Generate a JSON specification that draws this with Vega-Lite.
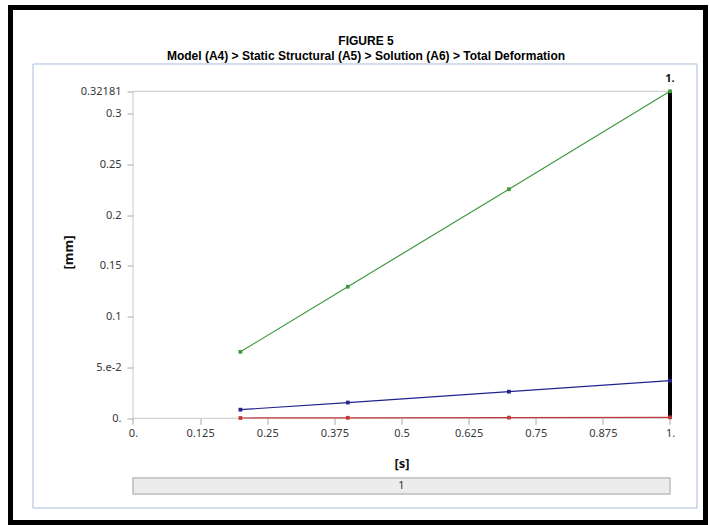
{
  "$schema": "https://vega.github.io/schema/vega-lite/v6.json",
  "width": 695,
  "height": 515,
  "autosize": {"type": "none"},
  "padding": {"left": 10.5, "top": 7.5, "right": 4.5, "bottom": 2.5},
  "background": "white",
  "config": {
    "view": {"stroke": "black", "strokeWidth": 5},
    "font": "Noto Sans"
  },
  "title": {
    "text": ["FIGURE 5", "Model (A4) > Static Structural (A5) > Solution (A6) > Total Deformation"],
    "font": "Liberation Sans",
    "fontSize": 12,
    "fontWeight": "bold",
    "color": "black",
    "anchor": "middle",
    "frame": "group",
    "dx": 8,
    "offset": -55,
    "lineHeight": 15
  },
  "datasets": {
    "deformation": [
      {"time": 0.2, "value": 0.0654, "series": "Maximum"},
      {"time": 0.4, "value": 0.1295, "series": "Maximum"},
      {"time": 0.7, "value": 0.2254, "series": "Maximum"},
      {"time": 1.0, "value": 0.32181, "series": "Maximum"},
      {"time": 0.2, "value": 0.0085, "series": "Average"},
      {"time": 0.4, "value": 0.0155, "series": "Average"},
      {"time": 0.7, "value": 0.0262, "series": "Average"},
      {"time": 1.0, "value": 0.037, "series": "Average"},
      {"time": 0.2, "value": 0.0003, "series": "Minimum"},
      {"time": 0.4, "value": 0.0005, "series": "Minimum"},
      {"time": 0.7, "value": 0.0007, "series": "Minimum"},
      {"time": 1.0, "value": 0.0009, "series": "Minimum"}
    ],
    "steps": [
      {"step": "1", "start": 0, "end": 1, "mid": 0.5}
    ],
    "cursor": [
      {"start": 0, "time": 1.0, "low": 0, "high": 0.32181, "label": "1."}
    ]
  },
  "layer": [
    {
      "data": {"name": "cursor"},
      "mark": {"type": "rule", "color": "#c8c8c8", "strokeWidth": 1},
      "encoding": {
        "x": {"field": "start", "type": "quantitative",
          "scale": {"domain": [-0.228119, 1.066108], "nice": false, "zero": false},
          "axis": {
            "values": [0, 0.125, 0.25, 0.375, 0.5, 0.625, 0.75, 0.875, 1],
            "labelExpr": "datum.value == 0 ? '0.' : datum.value == 1 ? '1.' : format(datum.value, '.3~f')",
            "offset": -104.2,
            "domain": false,
            "grid": false,
            "ticks": true,
            "tickSize": 6,
            "tickColor": "#a8a8a8",
            "labelFont": "Noto Sans",
            "labelFontSize": 11,
            "labelColor": "#383838",
            "labelPadding": 3,
            "labelFlush": false,
            "labelOverlap": false,
            "title": "[s]",
            "titleFont": "Noto Sans",
            "titleFontSize": 13,
            "titleFontWeight": "bold",
            "titleColor": "#111111",
            "titleX": 391,
            "titleY": 44.7,
            "titleBaseline": "middle",
            "titleAlign": "center"
          }
        },
        "x2": {"field": "time"},
        "y": {"field": "high", "type": "quantitative",
          "scale": {"domain": [-0.102546, 0.404279], "nice": false, "zero": false},
          "axis": {
            "values": [0, 0.05, 0.1, 0.15, 0.2, 0.25, 0.3, 0.32181],
            "labelExpr": "datum.value == 0 ? '0.' : datum.value == 0.05 ? '5.e-2' : format(datum.value, '.5~f')",
            "offset": -122.5,
            "domain": false,
            "grid": false,
            "ticks": true,
            "tickSize": 6,
            "tickColor": "#a8a8a8",
            "labelFont": "Noto Sans",
            "labelFontSize": 11,
            "labelColor": "#383838",
            "labelPadding": 6,
            "labelFlush": false,
            "labelOverlap": false,
            "title": "[mm]",
            "titleFont": "Noto Sans",
            "titleFontSize": 13,
            "titleFontWeight": "bold",
            "titleColor": "#111111",
            "titleX": -65,
            "titleY": 244.5,
            "titleAngle": 270,
            "titleBaseline": "middle",
            "titleAlign": "center"
          }
        }
      }
    },
    {
      "data": {"name": "steps"},
      "mark": {"type": "rect", "fill": "transparent", "stroke": "#a9bcd8", "strokeWidth": 1},
      "encoding": {
        "x": {"datum": -0.18622, "type": "quantitative"},
        "x2": {"datum": 1.05028},
        "y": {"datum": 0.34868, "type": "quantitative"},
        "y2": {"datum": -0.08828}
      }
    },
    {
      "data": {"name": "steps"},
      "mark": {"type": "rect", "fill": "#ececec", "stroke": "#bdbdbd", "strokeWidth": 1.5},
      "encoding": {
        "x": {"field": "start", "type": "quantitative"},
        "x2": {"field": "end"},
        "y": {"datum": -0.05875, "type": "quantitative"},
        "y2": {"datum": -0.0745}
      }
    },
    {
      "data": {"name": "steps"},
      "mark": {"type": "text", "font": "Noto Sans", "fontSize": 11, "color": "#333333", "baseline": "middle", "align": "center"},
      "encoding": {
        "x": {"field": "mid", "type": "quantitative"},
        "y": {"datum": -0.0666, "type": "quantitative"},
        "text": {"field": "step"}
      }
    },
    {
      "data": {"name": "cursor"},
      "mark": {"type": "rule", "color": "#c8c8c8", "strokeWidth": 1},
      "encoding": {
        "x": {"field": "start", "type": "quantitative"},
        "x2": {"field": "time"},
        "y": {"field": "low", "type": "quantitative"}
      }
    },
    {
      "data": {"name": "cursor"},
      "mark": {"type": "rule", "color": "#c8c8c8", "strokeWidth": 1},
      "encoding": {
        "x": {"field": "start", "type": "quantitative"},
        "y": {"field": "low", "type": "quantitative"},
        "y2": {"field": "high"}
      }
    },
    {
      "data": {"name": "cursor"},
      "mark": {"type": "rule", "color": "black", "strokeWidth": 4},
      "encoding": {
        "x": {"field": "time", "type": "quantitative"},
        "y": {"field": "low", "type": "quantitative"},
        "y2": {"field": "high"}
      }
    },
    {
      "data": {"name": "deformation"},
      "mark": {"type": "line", "strokeWidth": 1.2},
      "encoding": {
        "x": {"field": "time", "type": "quantitative"},
        "y": {"field": "value", "type": "quantitative"},
        "color": {"field": "series", "type": "nominal",
          "scale": {"domain": ["Maximum", "Average", "Minimum"], "range": ["#3f9a3f", "#23238f", "#c03a3a"]},
          "legend": null}
      }
    },
    {
      "data": {"name": "deformation"},
      "mark": {"type": "point", "shape": "square", "filled": true, "size": 14, "opacity": 1},
      "encoding": {
        "x": {"field": "time", "type": "quantitative"},
        "y": {"field": "value", "type": "quantitative"},
        "color": {"field": "series", "type": "nominal",
          "scale": {"domain": ["Maximum", "Average", "Minimum"], "range": ["#3f9a3f", "#23238f", "#c03a3a"]},
          "legend": null}
      }
    },
    {
      "data": {"name": "cursor"},
      "mark": {"type": "text", "font": "Noto Sans", "fontSize": 11, "fontWeight": "bold", "color": "#111111", "dy": -12, "align": "center", "baseline": "middle"},
      "encoding": {
        "x": {"field": "time", "type": "quantitative"},
        "y": {"field": "high", "type": "quantitative"},
        "text": {"field": "label"}
      }
    }
  ]
}
